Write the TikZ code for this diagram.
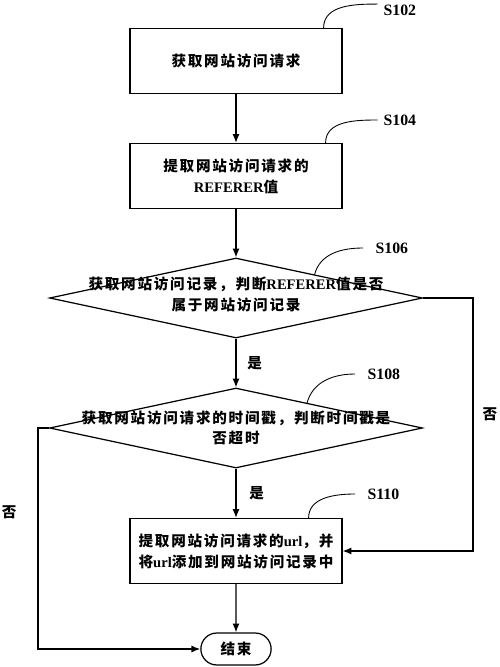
\documentclass[tikz,border=0pt]{standalone}
\usepackage{fontspec}
\setmainfont{Liberation Serif}
\newfontfamily\cjk{Noto Sans CJK SC}[LetterSpace=12]
\usetikzlibrary{shapes.geometric,shapes.misc,arrows.meta,calc}
\newcommand{\zh}[1]{{\cjk #1}}

\tikzset{
  stepbox/.style={draw, minimum width=4.24cm, minimum height=1.3cm, align=center,
    font=\bfseries\fontsize{8.3}{12}\selectfont},
  decision/.style={draw, diamond, minimum width=7.46cm, minimum height=1.6cm, inner sep=0pt},
  dtext/.style={align=center, font=\bfseries\fontsize{8.3}{11.5}\selectfont},
  endbox/.style={draw, rounded rectangle, minimum width=1.64cm, minimum height=0.64cm,
    font=\bfseries\fontsize{8.3}{10}\selectfont},
  steplabel/.style={anchor=west, inner sep=0pt, font=\bfseries\fontsize{9}{10}\selectfont},
  answer/.style={font=\bfseries\fontsize{8.3}{10}\selectfont}
}

\begin{document}
\begin{tikzpicture}[x=0.02cm, y=-0.02cm, line width=0.7pt, >={Latex[length=5pt,width=4pt]}]
\useasboundingbox (0,0) rectangle (500,667);

% Steps
\node[stepbox] (fetch) at (236,61) {\zh{获取网站访问请求}};
\node[stepbox] (referer) at (236,176) {\zh{提取网站访问请求的}\\REFERER\zh{值}};
\node[decision] (inrec) at (236,298) {};
\node[dtext, yshift=2pt] (inrectxt) at (inrec) {\zh{获取网站访问记录，判断}REFERER\zh{值是否}\\\zh{属于网站访问记录}};
\node[decision] (timeout) at (236,428) {};
\node[dtext] (timeouttxt) at (timeout) {\zh{获取网站访问请求的时间戳，判断时间戳是}\\\zh{否超时}};
\node[stepbox] (addurl) at (236,551) {\zh{提取网站访问请求的}url\zh{，并}\\\zh{将}url\zh{添加到网站访问记录中}};
\node[endbox] (finish) at (236,649) {\zh{结束}};

% Step numbers
\node[steplabel] (s102) at (383,10) {S102};
\node[steplabel] (s104) at (383,120) {S104};
\node[steplabel] (s106) at (375,248) {S106};
\node[steplabel] (s108) at (367,374) {S108};
\node[steplabel] (s110) at (367,494) {S110};

\draw[line width=0.5pt] ([xshift=-0.38cm]fetch.north east) to[out=90,in=180] ([xshift=-3pt]s102.north west);
\draw[line width=0.5pt] ([xshift=-0.34cm]referer.north east) to[out=90,in=180] ([xshift=-3pt]s104.west);
\draw[line width=0.5pt] ($(inrec.north)!0.42!(inrec.east)$) to[out=75,in=180] ([xshift=-0.24cm]s106.west);
\draw[line width=0.5pt] ($(timeout.north)!0.38!(timeout.east)$) to[out=75,in=180] ([xshift=-0.24cm]s108.west);
\draw[line width=0.5pt] ([xshift=-0.68cm]addurl.north east) to[out=90,in=180] ([xshift=-0.24cm]s110.west);

% Arrows
\draw[->] (fetch) -- (referer);
\draw[->] (referer) -- (inrec);
\draw[->] (inrec) -- node[answer, right=0.1cm] {\zh{是}} (timeout);
\draw[->] (timeout) -- node[answer, right=0.14cm] {\zh{是}} (addurl);
\draw[->] (addurl) -- (finish);
\draw[->] (inrec.east) -- ++(50,0) |- node[answer, pos=0.23, right=0.06cm] {\zh{否}} (addurl.east);
\draw[->] (timeout.west) -- ++(-11,0) |- node[answer, pos=0.19, left=0.3cm] {\zh{否}} (finish.west);
\end{tikzpicture}
\end{document}
